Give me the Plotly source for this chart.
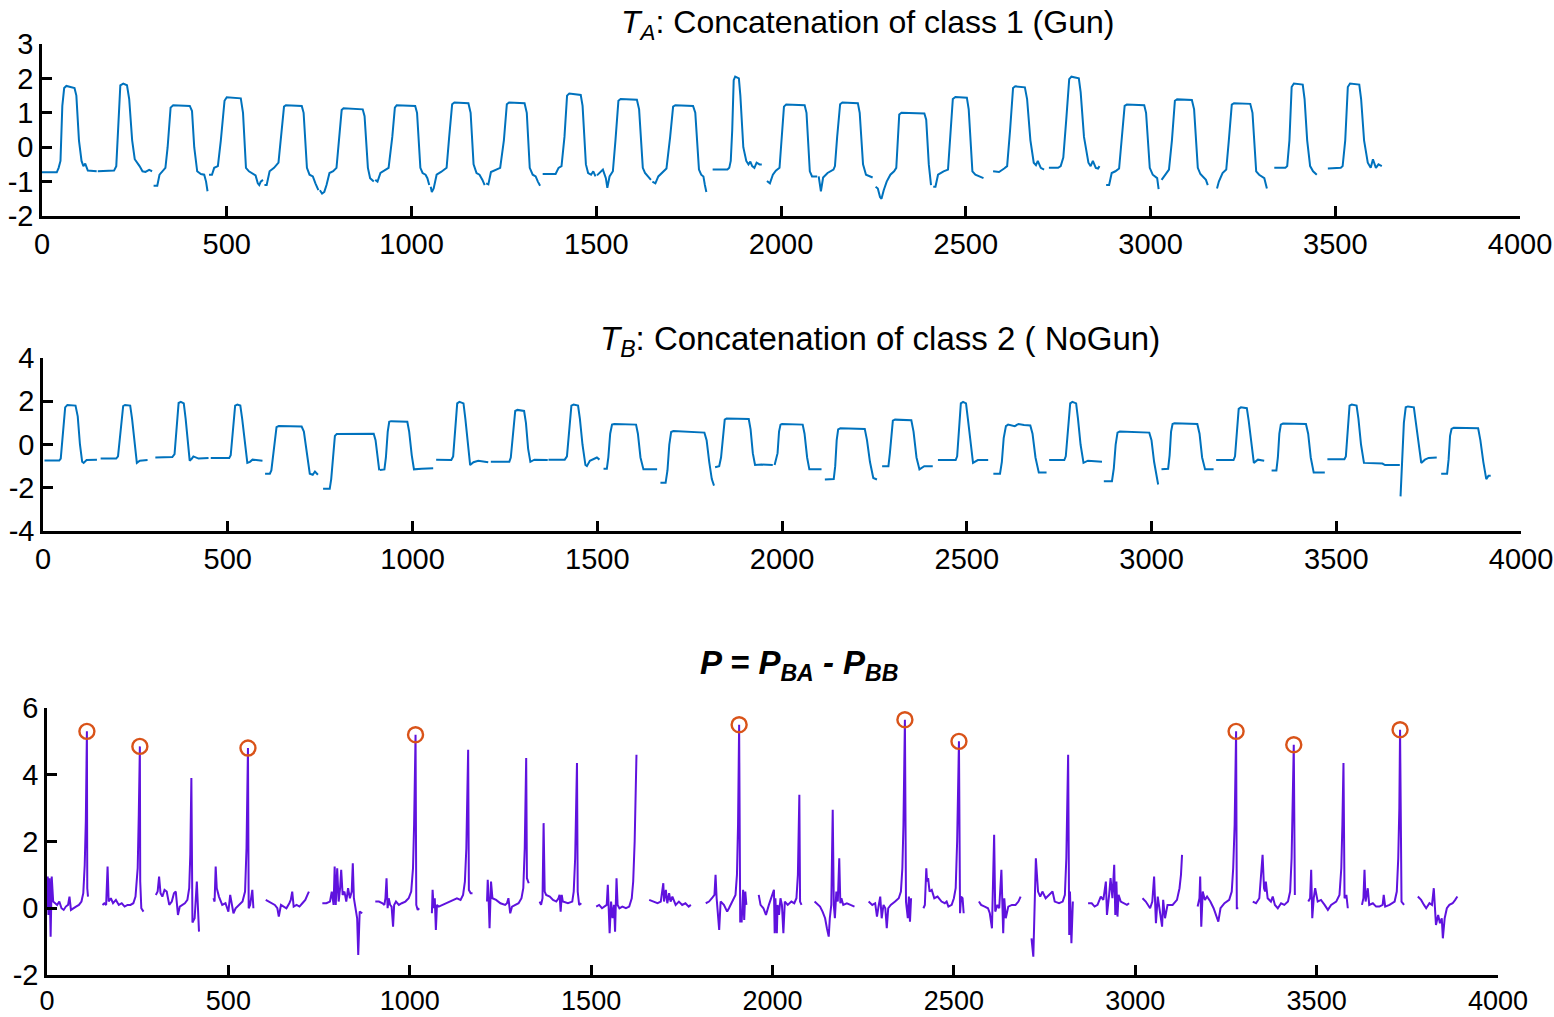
import plotly.graph_objects as go

# ---------------- DATA ----------------
TA_X = [
    [0,40,45,50,55,60,66,88,93,100,107,112,117,124,148],
    [151,195,201,206,212,220,230,236,244,251,258,264,272,280,290,298],
    [302,312,318,324,334,340,348,355,400,406,412,420,430,439,444,448],
    [452,460,466,476,484,494,500,538,544,552,560,568,578,584,588,592,598],
    [602,608,616,628,640,648,655,660,703,708,717,724,733,740,748],
    [752,758,764,770,778,788,797,803,811,816,868,873,882,888,894,898],
    [902,908,916,924,938,948,955,960,1010,1015,1024,1030,1038,1043,1048],
    [1052,1055,1060,1068,1080,1095,1102,1110,1116,1154,1160,1168,1176,1184,1192,1198],
    [1202,1208,1215,1228,1240,1250,1258,1264,1306,1312,1320,1328,1336,1342,1348],
    [1355,1390,1398,1406,1414,1421,1427,1458,1463,1472,1478,1486,1492,1498],
    [1502,1510,1518,1526,1530,1536,1545,1552,1560,1566,1610,1616,1626,1632,1640,1648],
    [1652,1660,1668,1678,1690,1700,1708,1714,1762,1768,1778,1784,1790,1794,1798],
    [1815,1855,1860,1864,1868,1872,1876,1886,1890,1898,1906,1912,1917,1922,1928,1934,1942,1948],
    [1962,1970,1978,1986,1996,2002,2008,2014,2064,2069,2078,2084,2098],
    [2102,2108,2114,2126,2142,2146,2152,2160,2166,2208,2213,2222,2230,2240,2248],
    [2256,2262,2268,2272,2278,2286,2296,2306,2312,2316,2320,2326,2388,2393,2400,2406],
    [2412,2418,2425,2440,2452,2458,2465,2472,2503,2508,2518,2526,2535,2548],
    [2574,2590,2604,2612,2620,2628,2634,2660,2666,2675,2684,2690,2695,2703,2712],
    [2725,2750,2757,2764,2772,2780,2786,2806,2811,2820,2832,2838,2844,2852,2858,2862],
    [2880,2888,2895,2905,2915,2922,2930,2936,2983,2988,2998,3006,3012,3018,3022],
    [3030,3040,3050,3058,3066,3072,3112,3118,3128,3135,3142,3150,3155],
    [3180,3185,3195,3205,3212,3220,3226,3270,3276,3286,3294,3302,3308,3315],
    [3335,3365,3370,3376,3382,3388,3412,3417,3424,3432,3440,3450],
    [3480,3515,3520,3527,3534,3540,3565,3570,3578,3588,3596,3602,3610,3617,3626],
]
TA_Y = [
    [-0.73,-0.73,-0.6,-0.4,1.2,1.72,1.78,1.72,1.5,0.2,-0.4,-0.55,-0.48,-0.68,-0.7],
    [-0.7,-0.68,-0.55,0.5,1.8,1.85,1.8,1.4,0.2,-0.35,-0.45,-0.55,-0.7,-0.72,-0.66,-0.7],
    [-1.12,-1.12,-0.8,-0.72,-0.6,0.0,1.15,1.22,1.2,1.05,0.0,-0.7,-0.78,-0.8,-1.0,-1.28],
    [-0.8,-0.8,-0.6,-0.55,0.2,1.35,1.45,1.42,1.0,-0.6,-0.7,-0.75,-0.82,-1.05,-1.1,-1.0,-0.95],
    [-1.1,-1.1,-0.7,-0.6,-0.45,0.5,1.18,1.22,1.2,1.0,-0.6,-0.8,-0.85,-1.05,-1.25],
    [-1.25,-1.35,-1.3,-1.1,-0.75,-0.7,-0.6,0.2,1.08,1.13,1.1,0.9,-0.6,-0.9,-0.98,-1.0],
    [-0.95,-1.0,-0.75,-0.7,-0.6,0.3,1.15,1.22,1.2,1.0,-0.6,-0.75,-0.8,-0.9,-1.1],
    [-1.15,-1.3,-1.2,-0.8,-0.72,-0.6,0.3,1.25,1.3,1.28,1.0,-0.5,-0.75,-0.8,-0.95,-1.1],
    [-1.05,-1.08,-0.72,-0.65,-0.6,0.2,1.25,1.3,1.28,1.0,-0.6,-0.8,-0.85,-1.0,-1.12],
    [-0.78,-0.78,-0.6,-0.55,0.3,1.5,1.56,1.52,1.2,-0.5,-0.75,-0.8,-0.7,-0.85],
    [-0.82,-0.72,-0.65,-0.9,-1.18,-0.85,-0.7,0.2,1.35,1.4,1.38,1.1,-0.6,-0.75,-0.85,-0.95],
    [-1.0,-1.05,-0.85,-0.75,-0.62,0.3,1.18,1.22,1.2,1.0,-0.65,-0.8,-0.85,-1.1,-1.3],
    [-0.65,-0.65,-0.6,-0.4,0.5,1.95,2.05,2.0,1.5,0.0,-0.4,-0.5,-0.42,-0.55,-0.6,-0.45,-0.5,-0.5],
    [-0.98,-1.05,-0.8,-0.68,-0.6,0.3,1.18,1.24,1.22,1.0,-0.7,-0.85,-0.85],
    [-0.85,-1.28,-0.88,-0.75,-0.65,-0.55,0.3,1.25,1.3,1.28,1.0,-0.5,-0.8,-0.85,-0.88],
    [-1.15,-1.2,-1.45,-1.5,-1.25,-1.0,-0.8,-0.7,-0.6,0.3,0.95,1.0,0.98,0.8,-0.5,-1.1],
    [-1.15,-1.15,-0.8,-0.7,-0.65,0.2,1.4,1.46,1.44,1.1,-0.7,-0.8,-0.85,-0.9],
    [-0.7,-0.72,-0.62,-0.55,0.5,1.72,1.77,1.74,1.4,0.2,-0.45,-0.52,-0.4,-0.6,-0.65],
    [-0.6,-0.6,-0.55,-0.3,0.8,1.98,2.05,2.0,1.6,0.3,-0.45,-0.55,-0.4,-0.6,-0.62,-0.55],
    [-1.1,-1.1,-0.75,-0.7,-0.62,0.2,1.2,1.24,1.22,1.0,-0.6,-0.8,-0.85,-0.9,-1.22],
    [-0.95,-0.8,-0.65,0.2,1.35,1.39,1.37,1.1,-0.6,-0.78,-0.85,-0.95,-1.1],
    [-1.2,-1.0,-0.75,-0.65,0.2,1.24,1.28,1.26,1.0,-0.7,-0.8,-0.85,-0.9,-1.2],
    [-0.6,-0.6,-0.55,0.2,1.75,1.85,1.82,1.4,0.2,-0.55,-0.7,-0.8],
    [-0.62,-0.6,-0.55,0.2,1.75,1.85,1.82,1.4,0.2,-0.45,-0.6,-0.35,-0.6,-0.5,-0.55],
]

TB_X = [
    [4,44,48,54,60,66,88,94,100,106,110,118,146],
    [156,198,203,210,217,222,236,241,248,254,262,283],
    [304,350,356,362,367,373,381,386,392,397,403,407,421,448],
    [454,504,508,514,520,526,534,539,546,553,560,567,594],
    [601,614,618,624,632,638,700,706,714,722,730,736,744],
    [758,776,780,785,790,795,895,900,906,910],
    [912,924,928,933,937,942,986,991,998,1004,1025,1056],
    [1064,1105,1110,1116,1121,1127,1138,1143,1150,1156,1165,1178,1205],
    [1212,1262,1266,1272,1278,1284,1302,1307,1313,1319,1330,1366],
    [1368,1412,1418,1424,1430,1436,1448,1453,1460,1468,1472,1480,1499,1506],
    [1517,1526,1530,1535,1540,1546,1605,1610,1617,1625,1662],
    [1671,1685,1690,1695,1700,1706,1790,1796,1803,1810,1816],
    [1819,1830,1835,1840,1845,1850,1910,1915,1921,1927,1945,1975],
    [1980,1988,1992,1996,2000,2056,2061,2068,2074,2107],
    [2116,2140,2144,2148,2152,2158,2224,2230,2238,2247,2257],
    [2271,2288,2292,2296,2300,2306,2350,2356,2364,2372,2385,2408],
    [2422,2470,2474,2479,2484,2490,2498,2503,2510,2517,2530,2558],
    [2572,2590,2595,2600,2606,2612,2630,2640,2655,2672,2678,2686,2695,2716],
    [2723,2764,2768,2774,2780,2786,2796,2801,2808,2816,2828,2866],
    [2871,2893,2898,2903,2908,2914,2994,3000,3007,3013,3018],
    [3027,3045,3049,3053,3057,3062,3124,3130,3137,3145,3168],
    [3175,3222,3226,3231,3236,3242,3258,3263,3270,3277,3288,3305],
    [3325,3338,3342,3346,3350,3356,3418,3424,3431,3439,3469],
    [3476,3522,3526,3531,3536,3542,3555,3560,3567,3575,3600,3625,3632,3672],
    [3674,3678,3683,3688,3694,3710,3715,3722,3730,3740,3750,3772],
    [3784,3800,3804,3808,3812,3818,3884,3890,3898,3906,3912,3918],
]
TB_Y = [
    [-0.74,-0.74,-0.65,0.5,1.72,1.83,1.8,1.3,0.0,-0.8,-0.85,-0.72,-0.7],
    [-0.65,-0.65,-0.55,0.8,1.78,1.83,1.8,1.2,0.0,-0.85,-0.75,-0.72],
    [-0.6,-0.58,-0.45,0.8,1.92,1.97,1.9,1.2,0.0,-0.75,-0.65,-0.55,-0.65,-0.62],
    [-0.62,-0.62,-0.5,0.7,1.8,1.85,1.8,1.2,0.0,-0.85,-0.8,-0.7,-0.75],
    [-1.35,-1.35,-1.2,-0.2,0.8,0.85,0.83,0.6,-0.5,-1.35,-1.4,-1.25,-1.4],
    [-2.05,-2.05,-1.6,-0.5,0.4,0.48,0.5,0.2,-0.8,-1.2],
    [-1.18,-1.15,-0.6,0.6,1.05,1.08,1.05,0.6,-0.5,-1.15,-1.12,-1.1],
    [-0.7,-0.72,-0.55,0.8,1.9,1.97,1.9,1.2,0.0,-0.95,-0.82,-0.75,-0.82],
    [-0.8,-0.8,-0.6,0.6,1.55,1.6,1.55,1.0,-0.2,-0.8,-0.7,-0.72],
    [-0.7,-0.7,-0.55,0.8,1.8,1.85,1.8,1.2,0.0,-0.95,-1.0,-0.75,-0.6,-0.7],
    [-1.12,-1.12,-0.6,0.5,0.92,0.95,0.92,0.5,-0.6,-1.15,-1.15],
    [-1.77,-1.77,-1.2,0.0,0.58,0.62,0.55,0.2,-0.8,-1.6,-1.9],
    [-1.05,-1.0,-0.6,0.4,1.15,1.2,1.18,0.7,-0.4,-0.95,-0.93,-0.95],
    [-0.95,-0.4,0.6,0.92,0.95,0.92,0.5,-0.6,-1.15,-1.15],
    [-1.62,-1.6,-1.0,0.2,0.7,0.75,0.72,0.2,-0.8,-1.55,-1.62],
    [-1.0,-1.0,-0.4,0.6,1.1,1.15,1.12,0.6,-0.6,-1.15,-1.0,-1.0],
    [-0.72,-0.72,-0.55,0.8,1.9,1.97,1.9,1.2,0.0,-0.85,-0.72,-0.72],
    [-1.35,-1.35,-0.8,0.3,0.85,0.92,0.85,0.95,0.9,0.88,0.5,-0.6,-1.3,-1.3],
    [-0.72,-0.72,-0.55,0.8,1.9,1.97,1.9,1.2,0.0,-0.85,-0.75,-0.8],
    [-1.7,-1.7,-1.1,0.0,0.55,0.6,0.55,0.2,-0.8,-1.5,-1.85],
    [-1.15,-1.12,-0.5,0.6,0.95,0.98,0.95,0.5,-0.6,-1.15,-1.15],
    [-0.72,-0.72,-0.55,0.6,1.65,1.72,1.68,1.1,0.0,-0.85,-0.7,-0.75],
    [-1.2,-1.2,-0.6,0.5,0.92,0.97,0.95,0.5,-0.6,-1.3,-1.3],
    [-0.68,-0.68,-0.55,0.8,1.8,1.85,1.8,1.2,0.0,-0.85,-0.85,-0.88,-0.95,-0.95],
    [-2.4,-0.8,1.0,1.72,1.76,1.72,1.1,0.0,-0.85,-0.7,-0.62,-0.6],
    [-1.35,-1.35,-0.7,0.4,0.72,0.77,0.75,0.2,-0.8,-1.6,-1.45,-1.45],
]

P_X = [
    [0,2,4,7,10,13,17,22,28,34,40,46,52,58,62,66,72,80,88,95,100,104,107,110,111,113],
    [153,158,163,167,170,176,182,190,198,206,214,222,230,238,244,250,253,256,257,260,266],
    [300,305,309,313,318,324,330,337,344,350,355,361,366,373,380,387,392,395,398,401,407,413,416,419],
    [459,462,465,468,474,483,492,500,505,511,514,520,530,539,546,550,554,556,560,566,569],
    [603,612,620,628,635,639,645,652,660,668,672,676,680,688,696,704,712,718,722],
    [759,770,780,785,790,793,796,800,804,808,811,815,820,825,830,835,840,843,846,850,855,858,862,869],
    [905,915,925,930,933,936,939,942,946,950,954,957,962,970,978,988,997,1004,1009,1012,1016,1018,1022,1026],
    [1061,1063,1066,1069,1072,1075,1080,1090,1100,1110,1120,1130,1140,1147,1152,1156,1161,1163,1168,1173],
    [1213,1215,1218,1220,1224,1228,1238,1250,1263,1268,1272,1277,1282,1290,1300,1308,1313,1317,1321,1323,1326,1328],
    [1358,1362,1366,1369,1372,1376,1386,1395,1404,1410,1413,1416,1419,1422,1436,1448,1452,1456,1461,1463,1467,1473],
    [1514,1522,1530,1538,1543,1546,1549,1551,1555,1559,1563,1566,1570,1573,1578,1586,1596,1605,1612,1616,1620,1625],
    [1660,1670,1683,1692,1699,1701,1706,1710,1715,1719,1724,1733,1742,1751,1760,1769,1775],
    [1816,1825,1833,1840,1843,1846,1853,1857,1866,1875,1880,1890,1898,1902,1905,1908,1911,1915,1919,1922,1925,1928],
    [1962,1967,1975,1982,1990,2004,2006,2008,2012,2014,2018,2022,2026,2030,2034,2042,2052,2060,2066,2070,2074,2076,2080],
    [2116,2122,2131,2138,2145,2150,2155,2158,2162,2166,2169,2172,2176,2180,2184,2187,2190,2195,2205,2215,2226],
    [2265,2275,2283,2288,2293,2297,2301,2306,2311,2315,2319,2326,2338,2348,2354,2358,2361,2365,2368,2373,2376,2379,2382],
    [2416,2420,2424,2426,2429,2433,2439,2446,2455,2466,2475,2480,2485,2494,2500,2505,2509,2514,2517,2520,2524,2527],
    [2569,2575,2585,2594,2599,2605,2611,2614,2620,2625,2631,2636,2639,2643,2650,2660,2670,2678,2684],
    [2714,2719,2726,2732,2738,2744,2753,2762,2772,2778,2790,2800,2806,2810,2815,2818,2820,2824,2828],
    [2870,2880,2888,2896,2905,2912,2919,2922,2928,2932,2937,2942,2945,2948,2951,2954,2960,2970,2977,2983],
    [3020,3029,3041,3047,3052,3057,3062,3069,3074,3077,3082,3089,3103,3115,3122,3126,3129],
    [3172,3177,3179,3182,3186,3192,3198,3207,3216,3223,3229,3235,3246,3259,3266,3270,3274,3278,3280,3284],
    [3324,3333,3342,3351,3355,3358,3360,3365,3374,3379,3385,3393,3402,3411,3421,3427,3431,3434,3437,3440],
    [3477,3482,3485,3488,3492,3496,3503,3512,3522,3531,3540,3554,3563,3568,3571,3574,3577,3582,3586],
    [3625,3629,3632,3635,3641,3645,3655,3664,3673,3682,3685,3689,3701,3715,3721,3725,3728,3730,3734,3741],
    [3779,3788,3796,3802,3811,3818,3823,3826,3829,3835,3840,3845,3848,3853,3859,3866,3875,3882,3888],
]
P_Y = [
    [0.0,0.95,-0.2,0.9,-0.85,0.95,0.2,0.15,0.1,0.2,0.0,-0.05,0.05,0.1,0.35,-0.05,0.0,0.05,0.1,0.2,0.45,1.3,2.6,5.3,0.6,0.35],
    [0.1,0.15,0.1,1.25,0.2,0.3,0.15,0.25,0.1,0.15,0.05,0.1,0.1,0.15,0.35,1.2,2.8,4.85,0.8,0.0,-0.1],
    [0.4,0.5,0.95,0.45,0.35,0.55,0.5,0.1,0.2,0.45,0.5,-0.2,0.05,0.1,0.15,0.25,0.6,1.6,3.9,-0.43,-0.3,0.8,0.1,-0.7],
    [0.3,0.2,1.25,0.6,0.35,0.1,0.15,-0.1,0.4,0.05,-0.15,0.0,0.1,0.2,0.5,1.8,4.8,0.0,0.1,0.55,0.0],
    [0.25,0.2,0.15,0.1,0.0,-0.25,0.1,0.05,0.0,0.15,0.25,0.5,0.05,0.1,0.05,0.15,0.25,0.4,0.5],
    [0.15,0.15,0.2,0.5,0.1,1.25,0.1,1.2,0.2,0.6,1.15,0.4,0.5,0.2,0.6,0.3,0.5,1.35,0.3,0.0,-0.3,-1.4,-0.1,-0.15],
    [0.2,0.2,0.15,0.1,0.3,0.9,0.0,0.3,0.1,0.05,-0.55,0.1,0.2,0.1,0.15,0.2,0.3,0.5,1.2,2.5,5.2,0.1,-0.05,0.0],
    [-0.15,0.55,0.0,0.3,-0.65,0.1,0.05,0.1,0.15,0.2,0.25,0.3,0.25,0.4,0.8,1.8,4.75,0.55,0.45,0.45],
    [0.2,0.85,0.1,-0.6,0.8,0.3,0.25,0.15,0.1,0.15,0.3,-0.15,0.05,0.1,0.15,0.3,0.6,1.8,4.5,0.9,0.8,0.75],
    [0.2,0.1,0.3,2.55,0.5,0.4,0.35,0.25,0.2,0.3,0.4,-0.1,0.4,0.2,0.15,0.2,0.5,1.5,4.35,0.5,0.1,0.15],
    [0.05,0.1,0.0,0.05,0.1,0.7,-0.6,-0.75,0.2,-0.3,0.1,-0.7,0.9,0.1,0.0,0.05,0.0,0.05,0.3,0.8,2.0,4.6],
    [0.25,0.2,0.15,0.2,0.75,0.2,0.55,0.15,0.45,0.2,0.35,0.1,0.2,0.1,0.15,0.05,0.1],
    [0.15,0.2,0.3,0.4,1.0,0.3,-0.65,0.2,0.1,-0.1,0.0,0.2,0.4,1.0,2.5,5.5,-0.4,-0.4,0.55,-0.35,0.5,0.1],
    [0.4,0.1,0.0,-0.2,0.1,0.55,-0.75,0.3,-0.75,0.1,-0.2,0.3,0.1,-0.75,0.2,0.1,0.2,0.15,0.3,1.0,3.4,0.2,0.1],
    [0.2,0.15,0.05,-0.1,-0.3,-0.6,-0.85,-0.3,0.1,2.95,0.1,-0.3,0.5,0.2,1.5,0.15,0.3,0.1,0.15,0.1,0.05],
    [0.2,0.1,0.15,-0.25,0.1,0.35,-0.3,0.1,0.0,-0.6,0.0,0.1,0.2,0.3,0.5,1.2,2.5,5.65,0.2,-0.3,0.35,-0.4,0.3],
    [0.0,0.1,1.2,0.8,0.9,0.5,0.55,0.3,0.35,0.2,0.15,0.2,0.05,0.1,0.3,0.6,2.0,5.0,-0.15,0.35,0.3,-0.15],
    [0.2,0.1,0.05,0.0,-0.15,-0.6,2.2,-0.1,0.1,0.0,1.15,-0.75,0.3,-0.3,0.05,0.1,0.1,0.2,0.35],
    [-0.9,-1.45,1.5,0.5,0.35,0.5,0.3,0.4,0.5,0.2,0.15,0.2,0.4,1.5,4.6,-0.8,0.5,-1.05,0.2],
    [0.15,0.15,0.05,0.1,0.35,0.25,0.8,-0.2,0.4,0.9,0.3,1.3,-0.2,0.8,-0.25,0.4,0.2,0.15,0.1,0.15],
    [0.3,0.2,0.0,0.2,0.95,-0.45,0.35,-0.1,-0.55,0.25,-0.3,0.1,0.1,0.25,0.6,1.0,1.6],
    [0.05,0.3,0.95,-0.55,0.5,0.25,0.35,0.2,0.0,-0.2,-0.4,0.0,0.15,0.25,0.5,1.2,2.5,5.3,0.0,0.0],
    [0.2,0.15,0.3,1.6,0.6,0.5,0.8,0.3,0.2,0.35,0.1,0.0,0.15,0.1,0.2,0.5,1.5,3.0,4.9,0.4],
    [0.2,0.3,1.15,-0.3,0.3,0.6,0.2,0.25,0.1,-0.05,0.1,0.2,0.4,1.2,2.5,4.35,0.3,0.4,0.0],
    [0.1,0.3,1.15,0.2,0.6,0.1,0.15,0.05,0.05,0.1,0.4,0.05,0.1,0.2,0.5,1.5,3.0,5.35,0.2,0.1],
    [0.35,0.25,0.1,0.0,0.15,0.1,0.6,-0.1,-0.5,-0.2,-0.45,-0.3,-0.9,-0.3,0.0,0.1,0.15,0.25,0.35],
]

PEAK_X = [110, 256, 554, 1016, 1908, 2365, 2514, 3278, 3437, 3730]
PEAK_Y = [5.3, 4.85, 4.8, 5.2, 5.5, 5.65, 5.0, 5.3, 4.9, 5.35]

X_TICKS = [0, 500, 1000, 1500, 2000, 2500, 3000, 3500, 4000]
Y_TICKS_A = [-2, -1, 0, 1, 2, 3]
Y_TICKS_B = [-4, -2, 0, 2, 4]
Y_TICKS_P = [-2, 0, 2, 4, 6]

TITLE_A = "<i>T</i><sub><i>A</i></sub>: Concatenation of class 1 (Gun)"
TITLE_B = "<i>T</i><sub><i>B</i></sub>: Concatenation of class 2 ( NoGun)"
TITLE_P = "<b><i>P = P<sub>BA</sub> - P<sub>BB</sub></i></b>"


def join(xs, ys):
    X, Y = [], []
    for sx, sy in zip(xs, ys):
        X += list(sx) + [None]
        Y += list(sy) + [None]
    return X, Y


W, H = 1554, 1017
FONT = "Arial, Liberation Sans, sans-serif"
BLUE = "#0072BD"
PURPLE = "#5F12DE"
ORANGE = "#D95319"
TICK_SIZE = 29

fig = go.Figure()
ax, ay = join(TA_X, TA_Y)
bx, by = join(TB_X, TB_Y)
px_, py_ = join(P_X, P_Y)

fig.add_trace(go.Scatter(x=ax, y=ay, mode="lines", line=dict(color=BLUE, width=2),
                         xaxis="x", yaxis="y", showlegend=False, connectgaps=False))
fig.add_trace(go.Scatter(x=bx, y=by, mode="lines", line=dict(color=BLUE, width=2),
                         xaxis="x2", yaxis="y2", showlegend=False, connectgaps=False))
fig.add_trace(go.Scatter(x=px_, y=py_, mode="lines", line=dict(color=PURPLE, width=2),
                         xaxis="x3", yaxis="y3", showlegend=False, connectgaps=False))
fig.add_trace(go.Scatter(x=PEAK_X, y=PEAK_Y, mode="markers",
                         marker=dict(symbol="circle-open", size=15, color=ORANGE,
                                     line=dict(color=ORANGE, width=2.4)),
                         xaxis="x3", yaxis="y3", showlegend=False))


def common(size=TICK_SIZE):
    return dict(showline=True, linecolor="black", linewidth=2.5, ticks="inside",
                ticklen=10, tickwidth=2.5, tickcolor="black", showgrid=False,
                zeroline=False, automargin=False, mirror=False,
                ticklabeloverflow="allow",
                tickfont=dict(family=FONT, size=size, color="black"))


def xa(dom, anchor, size=TICK_SIZE):
    d = common(size)
    d.update(domain=dom, anchor=anchor, range=[0, 4000], tickmode="array",
             tickvals=X_TICKS, ticktext=[str(v) for v in X_TICKS])
    return d


def ya(dom, anchor, rng, tv):
    d = common()
    d.update(domain=dom, anchor=anchor, range=rng, tickmode="array",
             tickvals=tv, ticktext=[str(v) for v in tv])
    return d


fig.update_layout(
    width=W, height=H, autosize=False,
    margin=dict(l=0, r=0, t=0, b=0, pad=0),
    paper_bgcolor="white", plot_bgcolor="white",
    xaxis=xa([42 / W, 1520 / W], "y"),
    yaxis=ya([1 - 216 / H, 1 - 44 / H], "x", [-2, 3], Y_TICKS_A),
    xaxis2=xa([43 / W, 1521 / W], "y2"),
    yaxis2=ya([1 - 531 / H, 1 - 358 / H], "x2", [-4, 4], Y_TICKS_B),
    xaxis3=xa([47 / W, 1498 / W], "y3", size=27),
    yaxis3=ya([1 - 975 / H, 1 - 708 / H], "x3", [-2, 6], Y_TICKS_P),
    annotations=[
        dict(text=TITLE_A, x=868 / W, y=1 - 25 / H, xref="paper", yref="paper",
             showarrow=False, xanchor="center", yanchor="middle",
             font=dict(family=FONT, size=32, color="black")),
        dict(text=TITLE_B, x=880 / W, y=1 - 341 / H, xref="paper", yref="paper",
             showarrow=False, xanchor="center", yanchor="middle",
             font=dict(family=FONT, size=33, color="black")),
        dict(text=TITLE_P, x=799 / W, y=1 - 665 / H, xref="paper", yref="paper",
             showarrow=False, xanchor="center", yanchor="middle",
             font=dict(family=FONT, size=33, color="black")),
    ],
)

fig.write_html("out.html",
               config={"displayModeBar": False},
               post_script="document.body.style.margin='0';"
                           "document.body.style.overflow='hidden';")
